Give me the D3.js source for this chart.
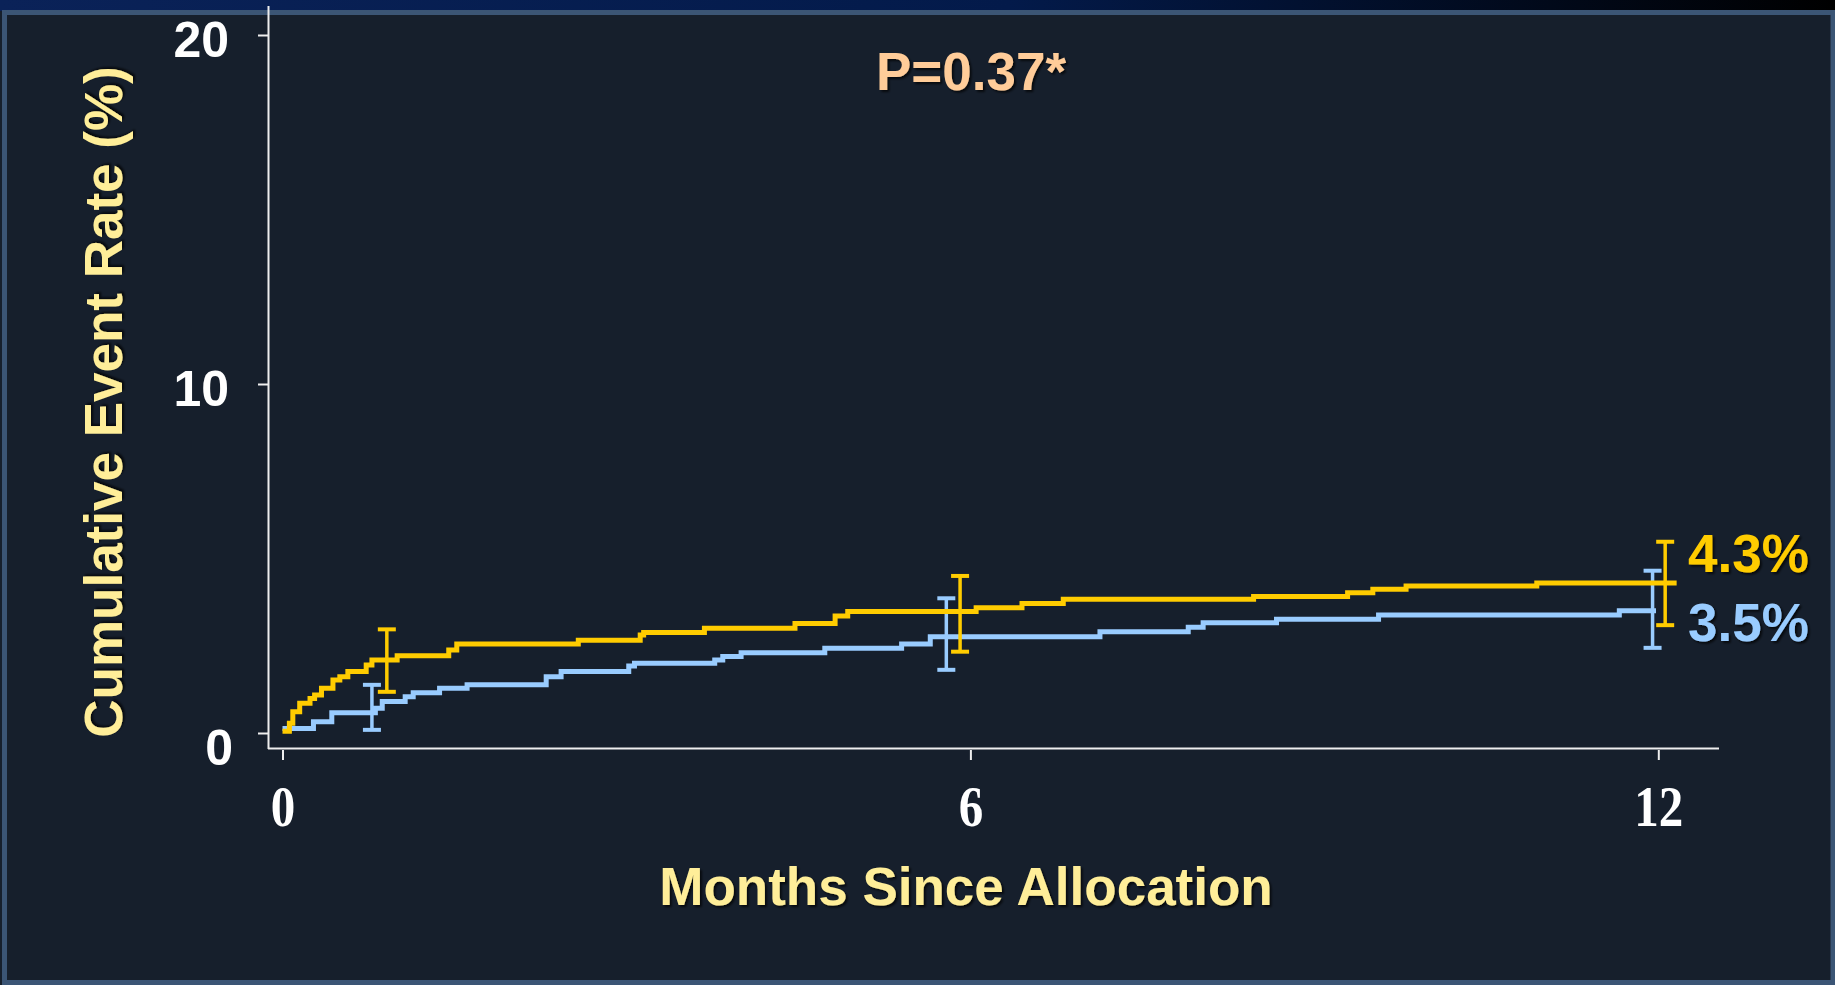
<!DOCTYPE html>
<html>
<head>
<meta charset="utf-8">
<script src="https://cdn.jsdelivr.net/npm/d3@7"></script>
<style>
  html, body { margin: 0; padding: 0; background: #161f2c; }
  svg { display: block; }
</style>
</head>
<body>
<svg id="chart" width="1835" height="985"></svg>
<script>
// Kaplan–Meier style cumulative event curves (months, cumulative %)
const yellowSteps = [
  [0.00, 0.05], [0.06, 0.28], [0.09, 0.61], [0.15, 0.85], [0.24, 0.99],
  [0.28, 1.09], [0.34, 1.28], [0.44, 1.52], [0.50, 1.61], [0.57, 1.76],
  [0.73, 1.95], [0.78, 2.09], [1.00, 2.21], [1.45, 2.38], [1.52, 2.55],
  [2.58, 2.66], [3.12, 2.81], [3.15, 2.88], [3.68, 3.00], [4.47, 3.14],
  [4.82, 3.35], [4.93, 3.48], [6.05, 3.59], [6.45, 3.71], [6.81, 3.83],
  [8.47, 3.91], [9.29, 4.02], [9.51, 4.12], [9.80, 4.21], [10.94, 4.30],
  [12.16, 4.30]
];
const blueSteps = [
  [0.00, 0.13], [0.27, 0.32], [0.43, 0.58], [0.81, 0.71], [0.87, 0.90],
  [1.07, 1.04], [1.14, 1.15], [1.37, 1.28], [1.61, 1.38], [2.30, 1.61],
  [2.43, 1.76], [3.02, 1.92], [3.07, 2.00], [3.77, 2.09], [3.84, 2.19],
  [4.00, 2.30], [4.73, 2.43], [5.40, 2.55], [5.65, 2.76], [7.13, 2.90],
  [7.90, 3.03], [8.03, 3.16], [8.67, 3.26], [9.56, 3.38], [11.66, 3.50],
  [11.98, 3.50]
];
// Confidence intervals: [month, low %, high %]
const yellowCI = [[0.91, 1.18, 2.97], [5.91, 2.33, 4.50], [12.06, 3.09, 5.48]];
const blueCI   = [[0.78, 0.09, 1.38], [5.79, 1.81, 3.86], [11.95, 2.44, 4.65]];

const xTicks = [0, 6, 12];
const yTicks = [0, 10, 20];
const endLabels = ["4.3%", "3.5%"];
const pText = "P=0.37*";
const xTitle = "Months Since Allocation";
const yTitle = "Cumulative Event Rate (%)";

const YELLOW = "#ffcc00", BLUE = "#99ccff";
const TITLE = "#ffee99", PEACH = "#ffcc99";

const svg = d3.select("#chart");
const W = 1835, H = 985;

// background, header strip and panel frame
const defs = svg.append("defs");
const grad = defs.append("linearGradient").attr("id", "strip")
  .attr("x1", 0).attr("x2", 1).attr("y1", 0).attr("y2", 0);
grad.append("stop").attr("offset", "0%").attr("stop-color", "#0a2258");
grad.append("stop").attr("offset", "55%").attr("stop-color", "#031a4a");
grad.append("stop").attr("offset", "100%").attr("stop-color", "#000000");
const shadow = defs.append("filter").attr("id", "shadow")
  .attr("x", "-10%").attr("y", "-20%").attr("width", "130%").attr("height", "150%");
shadow.append("feDropShadow").attr("dx", 2).attr("dy", 2).attr("stdDeviation", 1.2)
  .attr("flood-color", "#000").attr("flood-opacity", 0.7);

svg.append("rect").attr("width", W).attr("height", H).attr("fill", "#161f2c");
svg.append("rect").attr("width", W).attr("height", 11).attr("fill", "url(#strip)");
svg.append("rect").attr("x", 4.5).attr("y", 12.5).attr("width", W - 6.5).attr("height", H - 15)
  .attr("fill", "none").attr("stroke", "#3b5575").attr("stroke-width", 5);

// scales
const x = d3.scaleLinear().domain([0, 12]).range([282.5, 1658.3]);
const y = d3.scaleLinear().domain([0, 20]).range([733, 35]);

const axisColor = "#eeeeee";

// axis lines
svg.append("line").attr("x1", 268.5).attr("x2", 268.5).attr("y1", 6).attr("y2", 749)
  .attr("stroke", axisColor).attr("stroke-width", 2);
svg.append("line").attr("x1", 268).attr("x2", 1719).attr("y1", 748.5).attr("y2", 748.5)
  .attr("stroke", axisColor).attr("stroke-width", 2);

// y axis ticks and labels
const gy = svg.append("g").attr("transform", "translate(268,0)")
  .call(d3.axisLeft(y).tickValues(yTicks).tickSize(10).tickPadding(29).tickFormat(d3.format("d")));
gy.select(".domain").remove();
gy.selectAll(".tick line").attr("stroke", axisColor).attr("stroke-width", 2);
gy.selectAll(".tick text")
  .attr("fill", "#ffffff")
  .attr("font-family", "'Liberation Sans', Arial, sans-serif")
  .attr("font-weight", "bold").attr("font-size", 50)
  .attr("dy", d => d === 0 ? "0.62em" : "0.42em")
  .attr("dx", d => d === 0 ? 4 : 0);

// x axis ticks and labels
const gx = svg.append("g").attr("transform", "translate(0,750)")
  .call(d3.axisBottom(x).tickValues(xTicks).tickSize(10).tickPadding(26).tickFormat(d3.format("d")));
gx.select(".domain").remove();
gx.selectAll(".tick line").attr("stroke", axisColor).attr("stroke-width", 2);
gx.selectAll(".tick text")
  .attr("fill", "#ffffff")
  .attr("font-family", "'Liberation Serif', 'Times New Roman', serif")
  .attr("font-weight", "bold").attr("font-size", 57)
  .attr("transform", "scale(0.86,1)");

// step curves
const line = d3.line().x(d => x(d[0])).y(d => y(d[1])).curve(d3.curveStepAfter);

function drawCI(data, color) {
  const g = svg.append("g").attr("stroke", color).attr("stroke-linecap", "butt");
  g.selectAll("line.v").data(data).join("line").attr("class", "v")
    .attr("x1", d => x(d[0])).attr("x2", d => x(d[0]))
    .attr("y1", d => y(d[1])).attr("y2", d => y(d[2])).attr("stroke-width", 3.5);
  ["lo", "hi"].forEach((k, i) => {
    g.selectAll("line." + k).data(data).join("line").attr("class", k)
      .attr("x1", d => x(d[0]) - 9).attr("x2", d => x(d[0]) + 9)
      .attr("y1", d => y(d[i + 1])).attr("y2", d => y(d[i + 1])).attr("stroke-width", 4);
  });
}

svg.append("path").datum(blueSteps).attr("d", line)
  .attr("fill", "none").attr("stroke", BLUE).attr("stroke-width", 5);
drawCI(blueCI, BLUE);
svg.append("path").datum(yellowSteps).attr("d", line)
  .attr("fill", "none").attr("stroke", YELLOW).attr("stroke-width", 5);
drawCI(yellowCI, YELLOW);

// end-of-follow-up values
const sans = "'Liberation Sans', Arial, sans-serif";
svg.append("text").attr("x", 1688).attr("y", 572).text(endLabels[0])
  .attr("fill", YELLOW).attr("font-family", sans).attr("font-weight", "bold")
  .attr("font-size", 53).attr("filter", "url(#shadow)");
svg.append("text").attr("x", 1688).attr("y", 641).text(endLabels[1])
  .attr("fill", BLUE).attr("font-family", sans).attr("font-weight", "bold")
  .attr("font-size", 53).attr("filter", "url(#shadow)");

// p-value
svg.append("text").attr("x", 971).attr("y", 90).attr("text-anchor", "middle").text(pText)
  .attr("fill", PEACH).attr("font-family", sans).attr("font-weight", "bold")
  .attr("font-size", 53).attr("filter", "url(#shadow)");

// axis titles
svg.append("text").attr("x", 966).attr("y", 905).attr("text-anchor", "middle").text(xTitle)
  .attr("fill", TITLE).attr("font-family", sans).attr("font-weight", "bold")
  .attr("font-size", 53).attr("filter", "url(#shadow)");
svg.append("text").attr("transform", "translate(122,402) rotate(-90)")
  .attr("text-anchor", "middle").text(yTitle)
  .attr("fill", TITLE).attr("font-family", sans).attr("font-weight", "bold")
  .attr("font-size", 53).attr("filter", "url(#shadow)");
</script>
</body>
</html>
